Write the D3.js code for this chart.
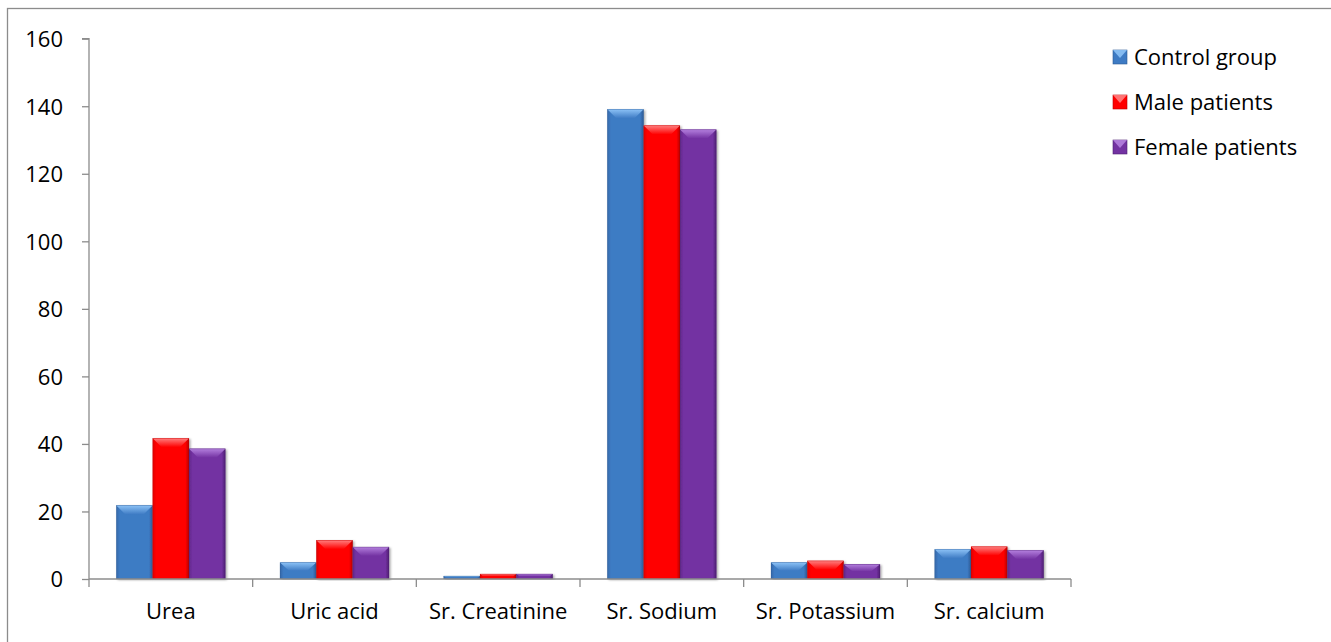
<!DOCTYPE html>
<html>
<head>
<meta charset="utf-8">
<script src="https://cdn.jsdelivr.net/npm/d3@7"></script>
<style>
  html, body { margin: 0; padding: 0; background: #fff; }
  svg { display: block; }
  svg text { font-family: "Open Sans", sans-serif; fill: #000; }
</style>
</head>
<body>
<svg id="chart" width="1331" height="642"></svg>
<script>
// Serum parameters by group
const categories = ["Urea", "Uric acid", "Sr. Creatinine", "Sr. Sodium", "Sr. Potassium", "Sr. calcium"];
const seriesNames = ["Control group", "Male patients", "Female patients"];
const controlGroup = [21.8, 4.9, 0.9, 139.1, 4.9, 8.8];
const malePatients = [41.7, 11.5, 1.5, 134.3, 5.4, 9.6];
const femalePatients = [38.6, 9.5, 1.5, 133.1, 4.4, 8.5];
const yTicks = [0, 20, 40, 60, 80, 100, 120, 140, 160];

const seriesValues = [controlGroup, malePatients, femalePatients];
const palette = [
  { base: "#3E7BC4", light: "#8CC2F6", dark: "#2C5A94", side: "#3568A8" },
  { base: "#FF0000", light: "#FF8080", dark: "#B80000", side: "#E00000" },
  { base: "#7332A2", light: "#B480DE", dark: "#4E1F72", side: "#62298C" }
];

const svg = d3.select("#chart");

// outer frame
svg.append("rect")
  .attr("x", 7.5).attr("y", 8.5)
  .attr("width", 1340).attr("height", 660)
  .attr("fill", "none").attr("stroke", "#8c8c8c").attr("stroke-width", 1.3);

const plot = { left: 89, right: 1071, top: 38.7, bottom: 579 };
const fontSize = "22px";

const x0 = d3.scaleBand().domain(categories).range([plot.left, plot.right]).paddingInner(0).paddingOuter(0);
const x1 = d3.scaleBand().domain(d3.range(seriesNames.length))
  .range([0, x0.bandwidth()]).paddingOuter(0.75).paddingInner(0);
const y = d3.scaleLinear().domain([0, 160]).range([plot.bottom, plot.top]);

const defs = svg.append("defs");
const shadow = defs.append("filter").attr("id", "barShadow")
  .attr("x", "-20%").attr("y", "-5%").attr("width", "140%").attr("height", "110%");
shadow.append("feDropShadow").attr("dx", 1.5).attr("dy", 1).attr("stdDeviation", 1.2)
  .attr("flood-color", "#000").attr("flood-opacity", 0.35);

palette.forEach((c, i) => {
  const g = defs.append("linearGradient").attr("id", "body" + i)
    .attr("x1", 0).attr("x2", 1).attr("y1", 0).attr("y2", 0);
  g.append("stop").attr("offset", "0%").attr("stop-color", c.side);
  g.append("stop").attr("offset", "10%").attr("stop-color", c.base);
  g.append("stop").attr("offset", "90%").attr("stop-color", c.base);
  g.append("stop").attr("offset", "100%").attr("stop-color", c.dark);
  const t = defs.append("linearGradient").attr("id", "top" + i)
    .attr("x1", 0).attr("x2", 0).attr("y1", 0).attr("y2", 1);
  t.append("stop").attr("offset", "0%").attr("stop-color", c.light);
  t.append("stop").attr("offset", "100%").attr("stop-color", c.base);
});

// y axis
const axisColor = "#8c8c8c";
const yAxis = d3.axisLeft(y).tickValues(yTicks).tickSize(7).tickPadding(19);
const gy = svg.append("g").attr("transform", `translate(${plot.left},0)`).call(yAxis)
  .attr("font-family", null).attr("font-size", null);
gy.select(".domain").attr("stroke", axisColor).attr("stroke-width", 1.3)
  .attr("d", `M-7,${plot.top}H0V${plot.bottom}`);
gy.selectAll(".tick line").attr("stroke", axisColor).attr("stroke-width", 1.3);
gy.selectAll(".tick text").style("font-size", fontSize).attr("dy", "0.36em");

// bars
const groups = svg.append("g").selectAll("g")
  .data(categories).join("g")
  .attr("transform", d => `translate(${x0(d)},0)`);

groups.each(function(cat, ci) {
  const g = d3.select(this);
  seriesValues.forEach((vals, si) => {
    const v = vals[ci];
    const bx = x1(si), bw = x1.bandwidth();
    const by = y(v), bh = y(0) - y(v);
    const bar = g.append("g");
    bar.append("rect").attr("x", bx).attr("y", by).attr("width", bw).attr("height", bh)
      .attr("fill", `url(#body${si})`).attr("filter", "url(#barShadow)");
    const bev = Math.min(9, bh / 2);
    const inset = Math.min(bw * 0.25, bev * 1.3);
    if (bh > 0) {
      // top bevel
      bar.append("path")
        .attr("d", `M${bx},${by}H${bx + bw}L${bx + bw - inset},${by + bev}H${bx + inset}Z`)
        .attr("fill", `url(#top${si})`);
      // thin outline
      bar.append("rect").attr("x", bx + 0.25).attr("y", by + 0.25)
        .attr("width", Math.max(0, bw - 0.5)).attr("height", Math.max(0, bh - 0.5))
        .attr("fill", "none").attr("stroke", palette[si].dark).attr("stroke-opacity", 0.5).attr("stroke-width", 0.6);
    }
  });
});

// x axis
const xAxis = d3.axisBottom(x0).tickSize(0).tickPadding(24);
const gx = svg.append("g").attr("transform", `translate(0,${plot.bottom})`).call(xAxis)
  .attr("font-family", null).attr("font-size", null);
gx.select(".domain").attr("stroke", axisColor).attr("stroke-width", 1.3)
  .attr("d", `M${plot.left},0H${plot.right}`);
gx.selectAll(".tick text").style("font-size", fontSize);
// category separators
const bounds = categories.map(c => x0(c)).concat([plot.right]);
svg.append("g").selectAll("line").data(bounds).join("line")
  .attr("x1", d => d).attr("x2", d => d)
  .attr("y1", plot.bottom).attr("y2", plot.bottom + 8)
  .attr("stroke", axisColor).attr("stroke-width", 1.3);

// legend
const legend = svg.append("g").attr("transform", "translate(1113,0)");
const legY = d3.scalePoint().domain(seriesNames).range([57, 147]);
seriesNames.forEach((name, i) => {
  const ly = legY(name);
  const s = 14;
  const lg = legend.append("g");
  lg.append("rect").attr("x", 0).attr("y", ly - s / 2).attr("width", s).attr("height", s)
    .attr("fill", palette[i].base).attr("stroke", palette[i].dark).attr("stroke-width", 0.6);
  lg.append("path")
    .attr("d", `M0,${ly - s / 2}H${s}L${s / 2},${ly + 1}Z`)
    .attr("fill", palette[i].light).attr("opacity", 0.9);
  lg.append("text").attr("x", 21).attr("y", ly).attr("dy", "0.36em")
    .style("font-size", fontSize).text(name);
});
</script>
</body>
</html>
